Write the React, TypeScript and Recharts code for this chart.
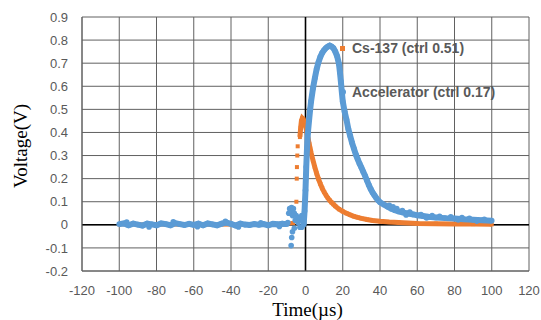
import {
  CartesianGrid,
  ComposedChart,
  Legend,
  ReferenceLine,
  Scatter,
  XAxis,
  YAxis,
} from "recharts";

// Pulse shapes from the scope. Time in µs, voltage in V.
const BLUE = "#5b9bd5";
const ORANGE = "#ed7d31";

const timeTicks = [-120, -100, -80, -60, -40, -20, 0, 20, 40, 60, 80, 100, 120];
const voltTicks = [-0.2, -0.1, 0, 0.1, 0.2, 0.3, 0.4, 0.5, 0.6, 0.7, 0.8, 0.9];

type Pt = [number, number];

const accelBaseline: Pt[] = [
  [-100, 0.003], [-97.5, 0.006], [-95, -0.002], [-92.5, 0.005], [-90, 0.001],
  [-87.5, -0.003], [-85, 0.005], [-82.5, 0.002], [-80, -0.002], [-77.5, 0.006],
  [-75, 0.003], [-72.5, -0.002], [-70, 0.007], [-67.5, 0.003], [-65, -0.001],
  [-62.5, 0.004], [-60, 0.0], [-57.5, 0.005], [-55, -0.002], [-52.5, 0.006],
  [-50, 0.002], [-47.5, -0.002], [-45, 0.005], [-42.5, 0.01], [-40, 0.004],
  [-37.5, -0.003], [-35, 0.005], [-32.5, 0.001], [-30, -0.001], [-27.5, 0.003],
  [-25, 0.0], [-22.5, 0.003], [-20, -0.002], [-17.5, 0.004], [-15, 0.002],
  [-12.5, 0.005], [-10, 0.003],
];

const accelTrigger: Pt[] = [
  [-9, 0.05], [-8.5, 0.07], [-8, 0.06], [-7.5, 0.075], [-7, 0.04], [-6.5, 0.07],
  [-6, 0.05], [-5.5, 0.02], [-5, 0.04], [-4.5, 0.03], [-4, 0.01], [-3.5, 0.02],
  [-3, -0.01], [-2.5, 0.03], [-2, 0.04], [-1.5, 0.02], [-7.7, -0.09],
  [-7.4, -0.055], [-7, -0.03], [-6, -0.015], [-2, -0.01], [-9.5, 0.01],
];

const accelPulse: Pt[] = [
  [-1, 0.0], [-0.5, 0.06], [0, 0.15], [0.4, 0.25], [0.8, 0.33], [1.3, 0.4],
  [2, 0.46], [2.5, 0.5], [3, 0.535], [4, 0.59], [5, 0.635], [6, 0.675],
  [7, 0.705], [8, 0.728], [9, 0.745], [10, 0.757], [11, 0.766], [12, 0.772],
  [13, 0.776], [14, 0.772], [15, 0.765], [16, 0.75], [17, 0.73], [18, 0.695],
  [18.5, 0.66], [19, 0.62], [19.5, 0.575], [20, 0.535], [21, 0.49], [22, 0.455],
  [23, 0.415], [24, 0.385], [25, 0.355], [26, 0.33], [27, 0.305], [28, 0.285],
  [29, 0.265], [30, 0.248], [31, 0.23], [32, 0.212], [33, 0.192], [34, 0.172],
  [35, 0.155], [36, 0.14], [37, 0.128], [38, 0.116], [39, 0.106], [40, 0.098],
  [42, 0.088], [44, 0.079], [46, 0.07], [48, 0.063], [50, 0.058], [52, 0.054],
  [55, 0.049], [58, 0.045], [60, 0.041], [63, 0.038], [66, 0.035], [70, 0.032],
  [75, 0.029], [80, 0.027], [85, 0.024], [90, 0.022], [95, 0.02], [100, 0.018],
];

const accelTailNoise: Pt[] = [
  [45, 0.085], [47, 0.078], [49, 0.07], [52, 0.062], [56, 0.055], [62, 0.045],
  [68, 0.04], [72, 0.037], [78, 0.035], [84, 0.031], [88, 0.028], [96, 0.024],
  [54, 0.043], [65, 0.03], [82, 0.021], [92, 0.016],
  [-96, 0.012], [-84, -0.009], [-71, 0.013], [-58, -0.008], [-43, 0.015],
  [-36, -0.009], [-24, 0.009], [-14, -0.007],
];

const csBaseline: Pt[] = [[-100, 0.002], [-60, 0.0], [-20, 0.001], [-6.6, 0.008]];

const csRise: Pt[] = [[-4.9, 0.1], [-4.7, 0.2], [-4.6, 0.25], [-4.4, 0.3], [-4.2, 0.34]];

const csPulse: Pt[] = [
  [-3, 0.38], [-2.6, 0.42], [-2.2, 0.45], [-1.7, 0.462], [-1.2, 0.458],
  [-0.7, 0.448], [0, 0.43], [0.5, 0.41], [1, 0.39], [1.5, 0.37], [2, 0.35],
  [2.5, 0.33], [3, 0.312], [4, 0.28], [5, 0.25], [6, 0.222], [7, 0.198],
  [8, 0.177], [9, 0.158], [10, 0.142], [11, 0.128], [12, 0.116], [13, 0.106],
  [14, 0.097], [15, 0.089], [16, 0.081], [18, 0.068], [20, 0.058], [22, 0.05],
  [24, 0.043], [26, 0.037], [28, 0.032], [30, 0.028], [33, 0.023], [36, 0.019],
  [40, 0.015], [45, 0.012], [50, 0.01], [55, 0.008], [60, 0.006], [70, 0.005],
  [80, 0.004], [90, 0.003], [100, 0.002],
];

const rows = (pts: Pt[]) => pts.map(([t, v]) => ({ t, v }));

const dot = (p: any) => <circle cx={p.cx} cy={p.cy} r={2.8} fill={BLUE} />;
const square = (p: any) => <rect x={p.cx - 2} y={p.cy - 2} width={4} height={4} fill={ORANGE} />;

const tickStyle = { fill: "#595959", fontSize: 13, fontFamily: "Liberation Sans, Arial, sans-serif" };
const titleFont = "Liberation Serif, Times New Roman, serif";

const renderLegend = () => (
  <div
    style={{
      fontFamily: "Liberation Sans, Arial, sans-serif",
      fontWeight: 700,
      fontSize: 14,
      color: "#595959",
      whiteSpace: "nowrap",
    }}
  >
    <div style={{ display: "flex", alignItems: "center", height: 16 }}>
      <span style={{ width: 5, height: 5, background: ORANGE, marginRight: 7 }} />
      <span>Cs-137 (ctrl 0.51)</span>
    </div>
    <div style={{ display: "flex", alignItems: "center", height: 16, marginTop: 28 }}>
      <span style={{ width: 6, height: 6, borderRadius: 3, background: BLUE, marginRight: 6 }} />
      <span>Accelerator (ctrl 0.17)</span>
    </div>
  </div>
);

export default function App() {
  return (
    <div style={{ position: "absolute", left: 0, top: 0, background: "#fff" }}>
      <ComposedChart width={541} height={320} margin={{ top: 17, right: 12, bottom: 0, left: 0 }}>
        <CartesianGrid stroke="#616161" strokeWidth={1} />
        <XAxis
          type="number"
          dataKey="t"
          domain={[-120, 120]}
          ticks={timeTicks}
          interval={0}
          height={49}
          tickLine={false}
          tickSize={6}
          tickMargin={9}
          axisLine={{ stroke: "#616161" }}
          tick={tickStyle}
          label={{
            content: ({ viewBox }: any) => (
              <text
                x={viewBox.x + viewBox.width / 2 + 2}
                y={316}
                textAnchor="middle"
                fontFamily={titleFont}
                fontSize={19}
                fill="#000"
              >
                Time(µs)
              </text>
            ),
          }}
        />
        <YAxis
          type="number"
          dataKey="v"
          domain={[-0.2, 0.9]}
          ticks={voltTicks}
          interval={0}
          width={82}
          tickLine={false}
          tickSize={6}
          tickMargin={8}
          axisLine={{ stroke: "#616161" }}
          tick={tickStyle}
          tickFormatter={(v: number) => String(Math.round(v * 10) / 10)}
          label={{
            content: ({ viewBox }: any) => {
              const cy = viewBox.y + viewBox.height / 2 + 2;
              return (
                <text
                  x={20}
                  y={cy}
                  transform={`rotate(-90, 20, ${cy})`}
                  textAnchor="middle"
                  dominantBaseline="central"
                  fontFamily={titleFont}
                  fontSize={19}
                  fill="#000"
                >
                  Voltage(V)
                </text>
              );
            },
          }}
        />
        <ReferenceLine x={0} stroke="#000" strokeWidth={1.6} />
        <ReferenceLine y={0} stroke="#000" strokeWidth={1.6} />
        <Legend
          layout="vertical"
          align="center"
          verticalAlign="middle"
          content={renderLegend}
          wrapperStyle={{ left: 340, top: 40, width: 200 }}
        />
        <Scatter
          name="Cs-137 base"
          data={rows(csBaseline)}
          shape={square}
          line={{ stroke: ORANGE, strokeWidth: 4 }}
          legendType="none"
          isAnimationActive={false}
        />
        <Scatter
          name="Cs-137 rise"
          data={rows(csRise)}
          shape={square}
          legendType="none"
          isAnimationActive={false}
        />
        <Scatter
          name="Cs-137 (ctrl 0.51)"
          data={rows(csPulse)}
          shape={square}
          line={{ stroke: ORANGE, strokeWidth: 5 }}
          isAnimationActive={false}
        />
        <Scatter
          name="Accelerator base"
          data={rows(accelBaseline)}
          shape={dot}
          line={{ stroke: BLUE, strokeWidth: 6 }}
          legendType="none"
          isAnimationActive={false}
        />
        <Scatter
          name="Accelerator trigger"
          data={rows(accelTrigger)}
          shape={dot}
          legendType="none"
          isAnimationActive={false}
        />
        <Scatter
          name="Accelerator (ctrl 0.17)"
          data={rows(accelPulse)}
          shape={dot}
          line={{ stroke: BLUE, strokeWidth: 6 }}
          isAnimationActive={false}
        />
        <Scatter
          name="Accelerator tail"
          data={rows(accelTailNoise)}
          shape={dot}
          legendType="none"
          isAnimationActive={false}
        />
      </ComposedChart>
    </div>
  );
}
